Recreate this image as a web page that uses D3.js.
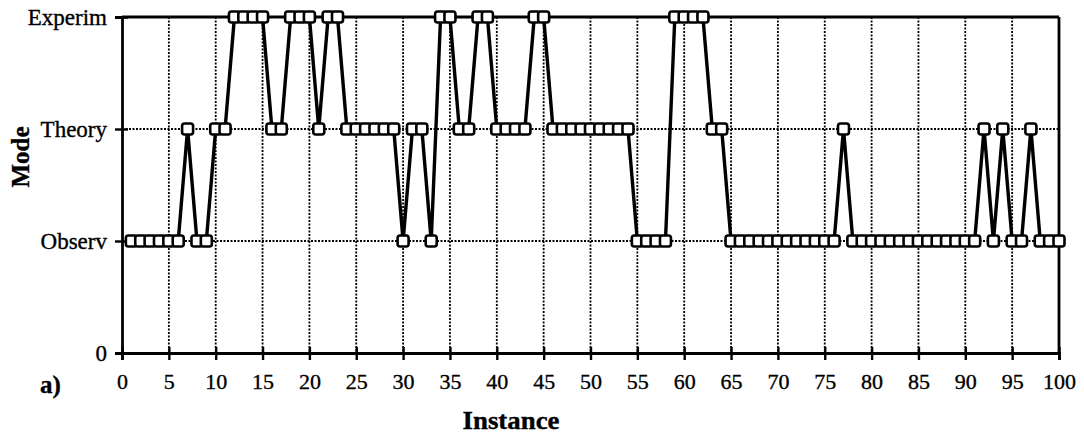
<!DOCTYPE html>
<html>
<head>
<meta charset="utf-8">
<script src="https://cdn.jsdelivr.net/npm/d3@7"></script>
<style>
  body { margin: 0; background: #fff; }
  text { font-family: "Liberation Serif", "DejaVu Serif", serif; fill: #000; stroke: #000; stroke-width: 0.35px; }
</style>
</head>
<body>
<div id="chart"></div>
<script>
const modeNames = ["0", "Observ", "Theory", "Experim"];
const xTickValues = [0, 5, 10, 15, 20, 25, 30, 35, 40, 45, 50, 55, 60, 65, 70, 75, 80, 85, 90, 95, 100];
// mode of each instance 1..100 (1 = Observ, 2 = Theory, 3 = Experim)
const modes = [
  1,1,1,1,1,1,2,1,1,2,
  2,3,3,3,3,2,2,3,3,3,
  2,3,3,2,2,2,2,2,2,1,
  2,2,1,3,3,2,2,3,3,2,
  2,2,2,3,3,2,2,2,2,2,
  2,2,2,2,1,1,1,1,3,3,
  3,3,2,2,1,1,1,1,1,1,
  1,1,1,1,1,1,2,1,1,1,
  1,1,1,1,1,1,1,1,1,1,
  1,2,1,2,1,1,2,1,1,1
];
const data = modes.map((m, i) => ({ instance: i + 1, mode: m }));

const width = 1084, height = 441;
const x = d3.scaleLinear().domain([0, 100]).range([122, 1059]);
const y = d3.scaleLinear().domain([0, 3]).range([353, 17]);

const svg = d3.select('#chart')
	.append('svg')
		.attr('width', width)
		.attr('height', height);

// dotted grid
const grid = svg.append('g').attr('class', 'grid');
grid.selectAll('.vgrid')
	.data(xTickValues.slice(1, -1)).enter()
	.append('line')
		.attr('x1', d => x(d)).attr('x2', d => x(d))
		.attr('y1', y(3)).attr('y2', y(0))
		.attr('stroke', '#000')
		.attr('stroke-width', 1.8)
		.attr('stroke-dasharray', '2,1.5');
grid.selectAll('.hgrid')
	.data([1, 2]).enter()
	.append('line')
		.attr('x1', x(0)).attr('x2', x(100))
		.attr('y1', d => y(d)).attr('y2', d => y(d))
		.attr('stroke', '#000')
		.attr('stroke-width', 1.8)
		.attr('stroke-dasharray', '2,1.5');

// frame: top and right borders
svg.append('line')
	.attr('x1', x(0)).attr('x2', x(100))
	.attr('y1', y(3)).attr('y2', y(3))
	.attr('stroke', '#000').attr('stroke-width', 2.8);
svg.append('line')
	.attr('x1', x(100)).attr('x2', x(100))
	.attr('y1', y(3)).attr('y2', y(0))
	.attr('stroke', '#000').attr('stroke-width', 2.8);

// x axis (ticks crossing the line)
const xAxis = svg.append('g')
	.attr('transform', `translate(0,${y(0)})`)
	.call(d3.axisBottom(x).tickValues(xTickValues).tickSize(7).tickPadding(13));
svg.append('g')
	.attr('transform', `translate(0,${y(0)})`)
	.call(d3.axisTop(x).tickValues(xTickValues).tickSize(6).tickFormat(''))
	.select('.domain').remove();
xAxis.selectAll('text').style('font-size', '22px');

// y axis
const yAxis = svg.append('g')
	.attr('transform', `translate(${x(0)},0)`)
	.call(d3.axisLeft(y).tickValues([0, 1, 2, 3]).tickSize(7).tickPadding(8)
		.tickFormat(d => modeNames[d]));
svg.append('g')
	.attr('transform', `translate(${x(0)},0)`)
	.call(d3.axisRight(y).tickValues([0, 1, 2, 3]).tickSize(6).tickFormat(''))
	.select('.domain').remove();
yAxis.selectAll('text').style('font-size', '23px');

svg.selectAll('.domain').attr('stroke-width', 2.8);
svg.selectAll('.tick line').attr('stroke-width', 2.4);

// series line
const line = d3.line()
	.x(d => x(d.instance))
	.y(d => y(d.mode));
svg.append('path')
	.datum(data)
	.attr('fill', 'none')
	.attr('stroke', '#000')
	.attr('stroke-width', 3.4)
	.attr('stroke-linejoin', 'round')
	.attr('d', line);

// open square markers
svg.selectAll('.marker')
	.data(data).enter()
	.append('rect')
		.attr('class', 'marker')
		.attr('x', d => x(d.instance) - 5.5)
		.attr('y', d => y(d.mode) - 5.5)
		.attr('width', 11)
		.attr('height', 11)
		.attr('rx', 2.5)
		.attr('fill', '#fff')
		.attr('stroke', '#000')
		.attr('stroke-width', 2.6);

// titles
svg.append('text')
	.attr('transform', `translate(29,157) rotate(-90)`)
	.attr('text-anchor', 'middle')
	.style('font-size', '25px')
	.style('font-weight', 'bold')
	.text('Mode');
svg.append('text')
	.attr('x', 511).attr('y', 429)
	.attr('text-anchor', 'middle')
	.attr('textLength', 97)
	.attr('lengthAdjust', 'spacingAndGlyphs')
	.style('font-size', '25px')
	.style('font-weight', 'bold')
	.text('Instance');
svg.append('text')
	.attr('x', 40).attr('y', 393)
	.style('font-size', '25px')
	.style('font-weight', 'bold')
	.text('a)');
</script>
</body>
</html>
